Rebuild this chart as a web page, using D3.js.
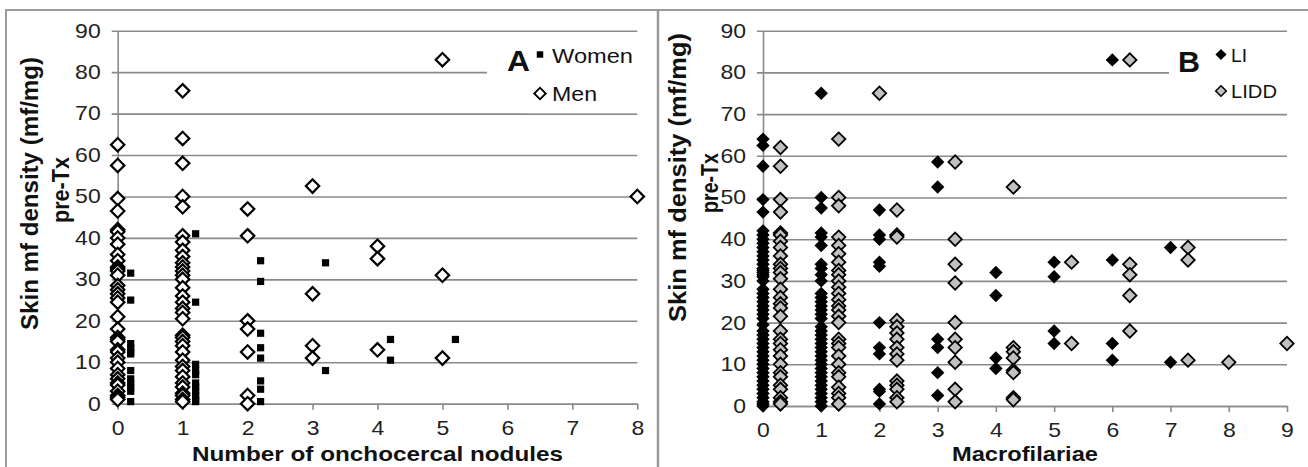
<!DOCTYPE html>
<html>
<head>
<meta charset="utf-8">
<script src="https://cdn.jsdelivr.net/npm/d3@7"></script>
<style>
  body { margin: 0; background: #fff; }
  svg { display: block; }
  text { font-family: "Liberation Sans", Arial, sans-serif; fill: #111; }
</style>
</head>
<body>
<svg width="1308" height="467"></svg>
<script>
// ---- data ----
const yTicks = [0, 10, 20, 30, 40, 50, 60, 70, 80, 90];
const xTicksA = [0, 1, 2, 3, 4, 5, 6, 7, 8];
const xTicksB = [0, 1, 2, 3, 4, 5, 6, 7, 8, 9];

// panel A: [plotted x, skin mf density values]
const menA = [
  [0, [62.5, 57.5, 49.5, 46.5, 42, 41.5, 40, 38.5, 36, 34.5, 33, 32.5, 32, 31, 28.5, 27.5, 26.5, 25.5, 24.5, 21, 18, 16, 15.5, 15, 13, 12.5, 11, 10, 8.5, 7, 6, 5, 4.5, 3, 2, 1.5, 1]],
  [1, [75.5, 64, 58, 50, 47.5, 40.5, 39, 37, 35.5, 34, 33, 32, 31, 30, 28, 26, 24.5, 23, 22, 20.5, 16.5, 16, 15, 14, 12.5, 10.5, 9, 8, 6.5, 5, 4, 2.5, 2, 1, 0.5]],
  [2, [47, 40.5, 20, 18, 12.5, 2, 0]],
  [3, [52.5, 26.5, 14, 11]],
  [4, [38, 35, 13]],
  [5, [83, 31, 11]],
  [8, [50]]
];
const womenA = [
  [0.2, [31.5, 25, 14.5, 13.5, 12.5, 12, 8, 6, 5, 4, 3, 0.5]],
  [1.2, [41, 24.5, 9.5, 8, 7, 5, 4, 3, 2, 1, 0.5]],
  [2.2, [34.5, 29.5, 17, 13.5, 11, 5.5, 3.5, 0.5]],
  [3.2, [34, 8]],
  [4.2, [15.5, 10.5]],
  [5.2, [15.5]]
];

// panel B
const liB = [
  [0, [64, 62.5, 57.5, 49.5, 46.5, 42, 41, 40, 39, 38, 37, 36, 35, 34, 33, 32.5, 32, 31.5, 31, 30, 28, 27, 26, 25, 24, 23, 22, 21, 19.5, 18, 17, 16, 15, 14, 13, 12, 11, 10, 9, 8, 7, 6, 5, 4, 3, 2, 1, 0.5, 0]],
  [1, [75, 50, 47.5, 41.5, 40.5, 38.5, 34, 33, 31.5, 30, 27, 26, 25, 24, 23, 22, 21, 19, 18, 17, 16, 15, 14, 13, 12, 11, 10, 9, 8, 7, 6, 5, 4, 3, 2, 1, 0]],
  [2, [47, 41, 40, 34.5, 33.5, 20, 14, 12.5, 4, 3.5, 0.5]],
  [3, [58.5, 52.5, 16, 14, 8, 2.5]],
  [4, [32, 26.5, 11.5, 9]],
  [5, [34.5, 31, 18, 15]],
  [6, [83, 35, 15, 11]],
  [7, [38, 10.5]]
];
const liddB = [
  [0.3, [62, 57.5, 49.5, 46.5, 41.5, 41, 39.5, 38, 36, 34, 33, 32, 30.5, 28, 26, 24.5, 23.5, 21.5, 18, 16, 15, 13.5, 12, 10, 8, 7, 5, 4, 2, 1, 0.5]],
  [1.3, [64, 50, 48, 40.5, 38.5, 36.5, 34.5, 32.5, 31.5, 30, 28.5, 27, 25.5, 24, 23, 21.5, 20, 16, 15, 14, 12, 10, 8, 7, 4.5, 3, 2, 0.5]],
  [2, [75]],
  [2.3, [47, 41, 40.5, 20.5, 19, 17.5, 16, 14, 12.5, 11, 6, 5, 4, 2, 1]],
  [3.3, [58.5, 40, 34, 29.5, 20, 16, 14, 10.5, 4, 1]],
  [4.3, [52.5, 14, 13, 11.5, 8.5, 8, 2, 1.5]],
  [5.3, [34.5, 15]],
  [6.3, [83, 34, 31.5, 26.5, 18]],
  [7.3, [38, 35, 11]],
  [8, [10.5]],
  [9, [15]]
];

const gridColor = "#8a8a8a";
const stretch = 1.15;

const svg = d3.select("svg");

// outer frames
svg.append("path")
  .attr("d", "M6,467V10H1308")
  .attr("fill", "none").attr("stroke", "#9a9a9a").attr("stroke-width", 2);
svg.append("line")
  .attr("x1", 658).attr("x2", 658).attr("y1", 10).attr("y2", 467)
  .attr("stroke", "#9a9a9a").attr("stroke-width", 2.5);

const diamond = d3.symbol(d3.symbolSquare, 90);
const square = d3.symbol(d3.symbolSquare, 52);

function points(groups) {
  return groups.flatMap(([x, vals]) => vals.map(v => ({ x, v })));
}

function drawPanel(p) {
  const x = d3.scaleLinear().domain(p.xDomain).range(p.xRange);
  const y = d3.scaleLinear().domain([0, 90]).range(p.yRange);
  const x0 = p.xRange[0], x1 = p.xRange[1];

  // gridlines (extend 6px left of the axis like tick marks)
  const grid = svg.append("g")
    .attr("transform", `translate(${x0 - 6},0)`)
    .call(d3.axisRight(y).tickValues(yTicks).tickSize(x1 - x0 + 6).tickFormat(""));
  grid.select(".domain").remove();
  grid.selectAll("line").attr("stroke", gridColor).attr("stroke-width", 1.6);

  // y axis
  const ya = svg.append("g")
    .attr("transform", `translate(${x0},0)`)
    .call(d3.axisLeft(y).tickValues(yTicks).tickSize(0).tickPadding(17));
  ya.select(".domain").attr("stroke", gridColor).attr("stroke-width", 1.6);
  ya.selectAll("text")
    .attr("x", 0)
    .attr("transform", `translate(-17,0) scale(${stretch},1)`)
    .style("font-size", "20px").style("fill", "#222");

  // x axis
  const xa = svg.append("g")
    .attr("transform", `translate(0,${y(0)})`)
    .call(d3.axisBottom(x).tickValues(p.xTicks).tickSize(6).tickSizeOuter(0).tickPadding(11));
  xa.select(".domain").attr("stroke", gridColor).attr("stroke-width", 1.6);
  xa.selectAll("line").attr("stroke", gridColor).attr("stroke-width", 1.6);
  xa.selectAll("text")
    .attr("transform", `scale(${stretch},1)`)
    .style("font-size", "20px").style("fill", "#222");

  // legend background hides part of the gridlines
  p.legendBoxes.forEach(b => {
    svg.append("rect").attr("x", b[0]).attr("y", b[1]).attr("width", b[2]).attr("height", b[3]).attr("fill", "#fff");
  });

  // axis titles
  svg.append("text")
    .attr("x", (x0 + x1) / 2).attr("y", 460.5)
    .attr("text-anchor", "middle")
    .attr("textLength", p.xTitleLen).attr("lengthAdjust", "spacingAndGlyphs")
    .style("font-size", "21px").style("font-weight", "bold")
    .text(p.xTitle);
  p.yTitle.forEach(t => {
    svg.append("text")
      .attr("transform", `translate(${t.bx},${t.cy}) rotate(-90)`)
      .attr("text-anchor", "middle")
      .attr("textLength", t.len).attr("lengthAdjust", "spacingAndGlyphs")
      .style("font-size", "23px").style("font-weight", "bold")
      .text(t.text);
  });

  return { x, y };
}

// ---- panel A ----
const A = drawPanel({
  xDomain: [0, 8], xRange: [117.7, 637.3], yRange: [403.7, 30.7], xTicks: xTicksA,
  legendBoxes: [[487, 64, 152, 16], [527, 104, 112, 9.2]],
  xTitle: "Number of  onchocercal nodules", xTitleLen: 371,
  yTitle: [
    { text: "Skin mf density (mf/mg)", bx: 38, cy: 193.5, len: 273 },
    { text: "pre-Tx", bx: 69, cy: 190, len: 66 }
  ]
});

svg.append("g").selectAll("path")
  .data(points(womenA)).join("path")
  .attr("d", square)
  .attr("transform", d => `translate(${A.x(d.x)},${A.y(d.v)})`)
  .attr("fill", "#000");

svg.append("g").selectAll("path")
  .data(points(menA)).join("path")
  .attr("d", diamond)
  .attr("transform", d => `translate(${A.x(d.x)},${A.y(d.v)}) rotate(45)`)
  .attr("fill", "#fff").attr("stroke", "#000").attr("stroke-width", 2.2);

// legend A
svg.append("text").attr("x", 507).attr("y", 71)
  .attr("textLength", 23).attr("lengthAdjust", "spacingAndGlyphs")
  .style("font-size", "29px").style("font-weight", "bold").text("A");
svg.append("path").attr("d", d3.symbol(d3.symbolSquare, 42))
  .attr("transform", "translate(540,54.5)").attr("fill", "#000");
svg.append("text").attr("x", 552).attr("y", 63)
  .attr("textLength", 81).attr("lengthAdjust", "spacingAndGlyphs")
  .style("font-size", "21px").text("Women");
svg.append("path").attr("d", d3.symbol(d3.symbolSquare, 66))
  .attr("transform", "translate(540,93.5) rotate(45)")
  .attr("fill", "#fff").attr("stroke", "#000").attr("stroke-width", 1.9);
svg.append("text").attr("x", 552).attr("y", 101)
  .attr("textLength", 45).attr("lengthAdjust", "spacingAndGlyphs")
  .style("font-size", "21px").text("Men");

// ---- panel B ----
const B = drawPanel({
  xDomain: [0, 9], xRange: [763, 1287], yRange: [406, 30.7], xTicks: xTicksB,
  legendBoxes: [[1169, 64, 120, 16]],
  xTitle: "Macrofilariae", xTitleLen: 146,
  yTitle: [
    { text: "Skin mf density  (mf/mg)", bx: 686, cy: 177.5, len: 289 },
    { text: "pre-Tx", bx: 718, cy: 183, len: 60 }
  ]
});

svg.append("g").selectAll("path")
  .data(points(liB)).join("path")
  .attr("d", diamond)
  .attr("transform", d => `translate(${B.x(d.x)},${B.y(d.v)}) rotate(45)`)
  .attr("fill", "#000");

svg.append("g").selectAll("path")
  .data(points(liddB)).join("path")
  .attr("d", diamond)
  .attr("transform", d => `translate(${B.x(d.x)},${B.y(d.v)}) rotate(45)`)
  .attr("fill", "#c0c0c0").attr("stroke", "#000").attr("stroke-width", 1.8);

// legend B
svg.append("text").attr("x", 1178).attr("y", 72)
  .attr("textLength", 22).attr("lengthAdjust", "spacingAndGlyphs")
  .style("font-size", "29px").style("font-weight", "bold").text("B");
svg.append("path").attr("d", d3.symbol(d3.symbolSquare, 62))
  .attr("transform", "translate(1221,54.5) rotate(45)").attr("fill", "#000");
svg.append("text").attr("x", 1231).attr("y", 62)
  .attr("textLength", 16).attr("lengthAdjust", "spacingAndGlyphs")
  .style("font-size", "19px").text("LI");
svg.append("path").attr("d", d3.symbol(d3.symbolSquare, 56))
  .attr("transform", "translate(1221,91) rotate(45)")
  .attr("fill", "#c0c0c0").attr("stroke", "#000").attr("stroke-width", 1.5);
svg.append("text").attr("x", 1231).attr("y", 98)
  .attr("textLength", 46).attr("lengthAdjust", "spacingAndGlyphs")
  .style("font-size", "19px").text("LIDD");
</script>
</body>
</html>
